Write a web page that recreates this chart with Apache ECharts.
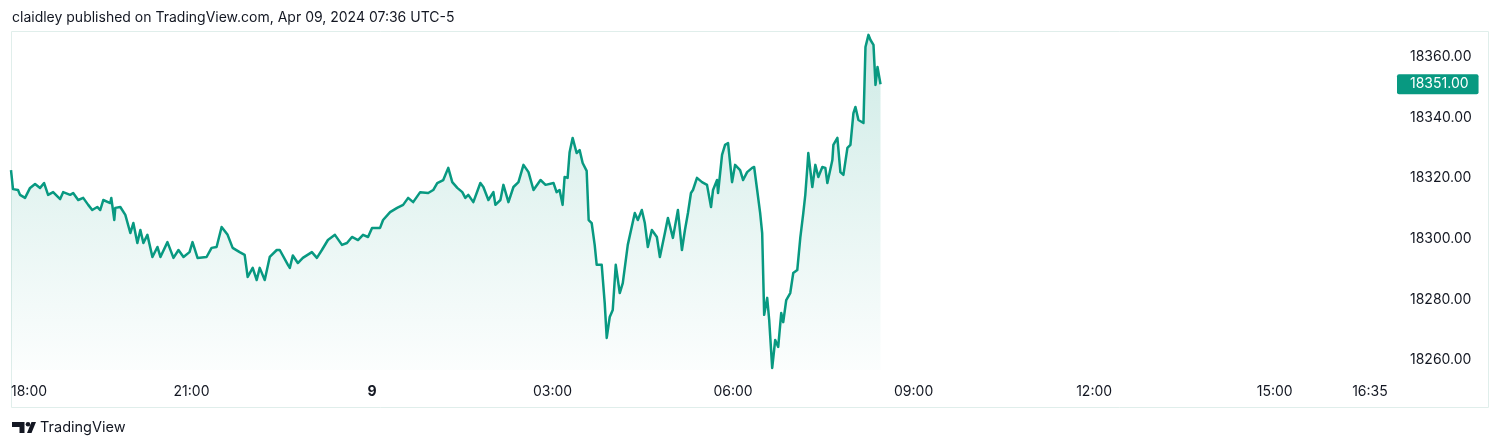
<!DOCTYPE html>
<html>
<head>
<meta charset="utf-8">
<script src="https://cdn.jsdelivr.net/npm/echarts@6/dist/echarts.min.js"></script>
<style>
html,body{margin:0;padding:0;background:#fff;}
#chart{width:1500px;height:448px;}
</style>
</head>
<body>
<div id="chart"></div>
<script>
// minutes since 18:00 (Apr 08) and close prices
var minutes = [0,2,7,9,14,19,24,29,33,37,42,49,52,59,62,67,72,77,81,86,89,92,99,100,103,104,109,114,119,122,126,129,132,136,141,146,149,156,162,167,172,178,181,186,195,200,205,210,216,221,228,233,236,241,245,248,253,258,265,268,276,278,281,286,291,300,305,310,316,323,330,335,340,346,351,356,360,368,371,378,385,391,396,401,408,416,421,425,431,436,440,445,450,453,456,461,468,471,476,481,483,488,491,496,501,506,511,516,521,528,533,541,544,547,550,552,555,557,560,564,567,570,574,576,579,582,584,589,592,594,597,600,603,607,610,615,622,625,629,632,635,639,644,647,652,655,660,665,669,672,675,678,680,684,689,694,698,700,704,705,709,712,715,719,722,727,730,734,739,741,744,747,749,751,754,756,759,762,765,768,770,773,777,780,784,787,790,792,794,795,799,802,805,809,812,814,819,820,824,827,830,834,837,840,842,845,850,852,855,857,860,862,864,867];
var prices = [18322.7,18316.4,18316.1,18314.5,18313.5,18316.8,18318.1,18316.8,18318.4,18314.5,18315.4,18313.1,18315.4,18314.5,18315.1,18312.8,18313.5,18311.2,18309.5,18310.5,18309.5,18312.8,18311.8,18313.5,18306.2,18310.2,18310.5,18307.9,18301.9,18305.2,18298.6,18302.9,18298.6,18301.3,18294.0,18297.3,18294.0,18298.9,18293.7,18296.3,18294.0,18295.6,18298.9,18293.7,18294.0,18297.0,18297.3,18303.9,18301.3,18297.0,18295.6,18294.7,18287.4,18290.4,18286.4,18290.4,18286.4,18294.0,18296.3,18296.3,18291.5,18290.4,18294.5,18292.0,18293.7,18295.6,18293.7,18296.3,18299.6,18301.3,18298.0,18298.6,18300.6,18299.6,18301.3,18300.6,18303.6,18303.6,18306.2,18308.8,18310.2,18311.2,18313.5,18312.1,18315.4,18315.1,18316.1,18318.4,18319.4,18323.4,18318.7,18316.8,18315.4,18313.5,18314.5,18312.1,18318.4,18317.1,18312.8,18315.4,18311.2,18312.8,18317.8,18312.1,18317.1,18318.7,18324.4,18322.0,18316.1,18319.4,18317.8,18318.4,18315.4,18316.1,18311.2,18320.4,18320.1,18328.6,18333.3,18328.3,18329.3,18325.0,18322.4,18306.2,18305.2,18298.0,18291.4,18291.4,18278.8,18267.3,18274.2,18276.5,18291.4,18282.1,18285.4,18298.0,18308.5,18306.2,18309.5,18305.2,18297.3,18302.9,18300.6,18294.0,18301.9,18306.9,18300.3,18309.5,18296.3,18302.9,18308.5,18315.1,18316.1,18320.1,18318.7,18317.8,18310.5,18316.1,18319.4,18315.1,18327.7,18331.0,18331.6,18318.7,18324.4,18322.7,18319.4,18322.0,18323.4,18323.7,18316.1,18308.5,18301.9,18274.9,18280.5,18273.2,18257.4,18266.6,18264.3,18275.5,18272.5,18279.8,18282.1,18288.7,18289.7,18300.3,18308.5,18314.5,18323.4,18328.3,18317.1,18324.4,18320.4,18323.7,18323.4,18318.4,18326.0,18331.0,18333.3,18322.0,18321.1,18330.0,18331.0,18341.5,18343.5,18339.2,18338.2,18363.3,18367.3,18365.6,18364.0,18350.8,18356.7,18351.0];

var xTickValues = [0,180,360,540,720,900,1080,1260,1355];
var xTickLabels = ['18:00','21:00','9','03:00','06:00','09:00','12:00','15:00','16:35'];
var yTickValues = [18260,18280,18300,18320,18340,18360];

var headerText = 'claidley published on TradingView.com, Apr 09, 2024 07:36 UTC-5';
var lastPrice = prices[prices.length - 1];

var FONT = 'Inter, "Noto Sans", sans-serif';
var GREEN = '#089981';

var seriesData = minutes.map(function (m, i) { return [m, prices[i]]; });

var chart = echarts.init(document.getElementById('chart'), null, {renderer: 'canvas'});
chart.setOption({
  backgroundColor: '#ffffff',
  animation: false,
  grid: {left: 11, right: 105, top: 32, bottom: 78, containLabel: false},
  xAxis: {
    type: 'value',
    min: 0,
    max: 1380,
    axisLine: {show: false},
    axisTick: {show: false},
    splitLine: {show: false},
    axisLabel: {
      customValues: xTickValues,
      margin: 15,
      color: '#131722',
      fontFamily: FONT,
      fontSize: 14,
      alignMinLabel: 'left',
      showMinLabel: true,
      showMaxLabel: true,
      hideOverlap: false,
      formatter: function (v) {
        var i = xTickValues.indexOf(v);
        if (i < 0) return '';
        var t = xTickLabels[i];
        return t === '9' ? '{b|' + t + '}' : t;
      },
      rich: {b: {fontWeight: 'bold', fontFamily: FONT, fontSize: 14, color: '#131722'}}
    }
  },
  yAxis: {
    type: 'value',
    position: 'right',
    min: 18256.7,
    max: 18368.25,
    axisLine: {show: false},
    axisTick: {show: false},
    splitLine: {show: false},
    axisLabel: {
      customValues: yTickValues,
      margin: 15,
      color: '#131722',
      fontFamily: FONT,
      fontSize: 14,
      formatter: function (v) { return v.toFixed(2); }
    }
  },
  series: [{
    type: 'line',
    data: seriesData,
    showSymbol: false,
    symbol: 'none',
    clip: false,
    lineStyle: {color: GREEN, width: 2.5, join: 'round'},
    areaStyle: {
      color: new echarts.graphic.LinearGradient(0, 0, 0, 1, [
        {offset: 0, color: 'rgba(8,153,129,0.28)'},
        {offset: 1, color: 'rgba(8,153,129,0.02)'}
      ])
    },
    markLine: {
      silent: true,
      symbol: 'none',
      lineStyle: {color: 'rgba(8,153,129,0)', width: 1, type: 'solid'},
      data: [{yAxis: lastPrice}],
      label: {
        show: true,
        position: 'end',
        distance: 2,
        formatter: lastPrice.toFixed(2),
        backgroundColor: GREEN,
        color: '#ffffff',
        fontFamily: FONT,
        fontSize: 14,
        lineHeight: 14,
        padding: [3, 10, 3, 13],
        borderRadius: 2
      }
    }
  }],
  graphic: [
    {type: 'rect', shape: {x: 11.5, y: 31.5, width: 1477, height: 376}, style: {fill: 'none', stroke: '#e0eeeb', lineWidth: 1}, silent: true, z: -1},
    {type: 'text', left: 12, top: 11, style: {text: headerText, fill: '#131722', font: '14px ' + FONT}},
    // TradingView logo
    {type: 'polygon', shape: {points: [[12,422],[24.5,422],[24.5,433],[19.5,433],[19.5,427],[12,427]]}, style: {fill: '#131722'}},
    {type: 'circle', shape: {cx: 28, cy: 424.3, r: 2.3}, style: {fill: '#131722'}},
    {type: 'polygon', shape: {points: [[27,433],[31.5,422],[36,422],[31.5,433]]}, style: {fill: '#131722'}},
    {type: 'text', left: 40, top: 420, style: {text: 'TradingView', fill: '#131722', font: '14.5px ' + FONT}}
  ]
});
</script>
</body>
</html>
